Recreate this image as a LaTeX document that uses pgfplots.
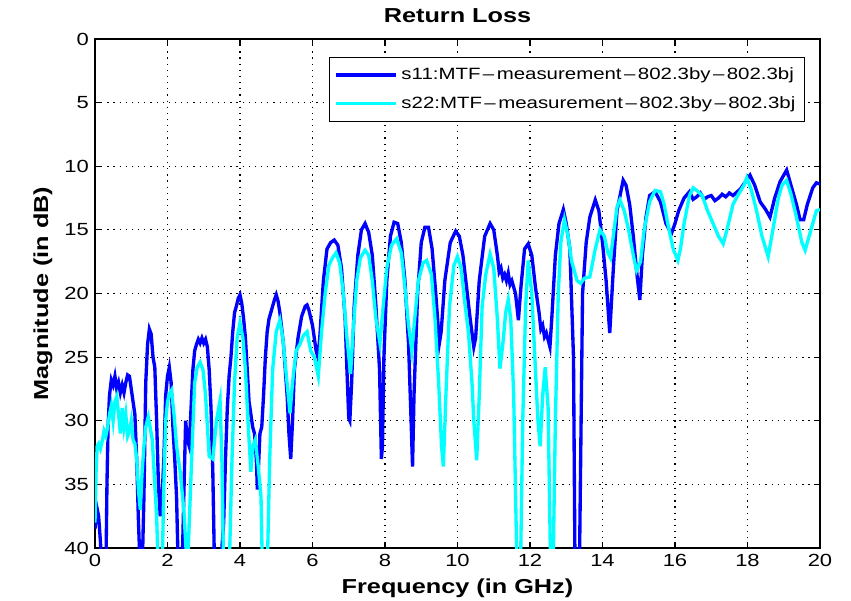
\documentclass[border=0pt]{standalone}
\usepackage{fontspec}
\setmainfont{Liberation Sans}[FakeStretch=1.25]
\usepackage{pgfplots}
\pgfplotsset{compat=1.18}
\definecolor{mblue}{RGB}{0,0,255}
\definecolor{mcyan}{RGB}{0,255,255}

% s11 (blue)
\pgfplotstableread{
x y
0.00 38.5
0.05 36.8
0.10 37.5
0.15 39.5
0.20 42
0.30 42
0.33 35
0.36 30.5
0.40 28
0.45 26.8
0.50 27.2
0.55 26.5
0.60 27.5
0.65 27.0
0.70 27.8
0.75 27.2
0.80 27.8
0.85 27.0
0.90 26.4
0.95 26.5
1.00 27.5
1.05 28.5
1.10 29.5
1.15 33
1.20 38
1.25 42
1.30 42
1.35 36
1.40 27
1.45 24
1.50 22.8
1.55 23.2
1.60 25
1.65 25.8
1.70 30
1.75 35
1.80 37.5
1.85 36
1.90 33
1.95 28
2.00 26.5
2.05 25.8
2.10 27
2.15 30.5
2.20 33
2.25 36
2.30 42
2.40 42
2.45 36
2.50 30
2.55 31.5
2.60 32
2.65 29
2.70 26
2.75 24.5
2.80 24
2.85 23.6
2.90 23.9
2.95 23.5
3.00 23.9
3.05 23.6
3.10 24.2
3.15 26
3.20 29
3.25 34
3.30 42
3.45 42
3.55 38
3.60 33
3.65 29
3.70 26.5
3.75 25
3.80 23
3.85 21.5
3.90 21
3.95 20.4
4.00 20.1
4.05 20.8
4.10 22
4.15 23.5
4.20 26
4.25 28.5
4.30 29.5
4.35 30.5
4.40 31
4.45 33
4.48 35.4
4.52 33
4.55 31
4.60 30.5
4.65 28
4.70 25
4.75 23
4.80 22
4.90 21
4.95 20.5
5.00 20.1
5.05 20.6
5.10 21.5
5.20 24
5.30 28
5.35 31
5.40 33
5.45 30
5.50 26
5.60 23.5
5.70 21.8
5.80 21.0
5.85 20.9
5.90 21.3
6.00 22.5
6.10 24.5
6.15 25
6.20 23.5
6.30 19
6.40 16.5
6.50 16
6.60 15.8
6.70 16.2
6.80 18
6.90 22
6.95 26
7.00 29.8
7.03 30
7.08 27
7.15 21
7.25 17
7.35 15
7.45 14.5
7.55 15.2
7.65 17
7.75 21
7.85 26
7.90 33
7.93 32
7.97 25
8.05 19
8.15 15.5
8.25 14.4
8.35 14.5
8.45 16
8.55 19
8.65 24
8.72 30
8.76 33.6
8.80 28
8.90 20
9.00 16
9.10 14.8
9.20 14.8
9.30 16.5
9.40 20
9.50 23.9
9.55 23
9.65 19
9.80 16
9.95 15.1
10.05 15.5
10.15 17
10.25 19.5
10.35 22
10.45 24.2
10.50 23.5
10.60 19
10.75 15.5
10.90 14.5
11.00 15
11.10 17
11.15 18.3
11.20 18
11.25 18.8
11.30 18.5
11.35 19
11.40 18.4
11.45 19.3
11.50 19
11.60 20
11.68 22.1
11.75 19.5
11.85 16.5
11.95 16.1
12.05 17
12.15 19.5
12.25 21.5
12.30 22.8
12.35 22.5
12.40 23.4
12.45 23.1
12.55 24.2
12.60 22
12.70 17
12.80 14.5
12.92 13.4
13.00 14.5
13.10 16.5
13.20 25
13.25 45
13.35 45
13.45 20
13.55 16
13.65 14
13.80 12.65
13.90 13.5
14.00 16
14.10 19
14.20 23.1
14.30 18
14.40 13.5
14.57 11.1
14.65 11.5
14.75 13
14.85 15.5
14.95 18.5
15.03 20.5
15.10 17
15.20 14
15.30 12.3
15.45 12.0
15.60 12.8
15.75 14.5
15.90 15.3
16.00 14.5
16.10 13.5
16.25 12.5
16.40 12.0
16.50 12.6
16.60 12.4
16.70 12.1
16.80 12.6
16.90 12.4
17.00 12.3
17.10 12.7
17.20 12.5
17.30 12.2
17.40 12.4
17.50 12.1
17.60 12.3
17.80 11.8
17.95 11.2
18.07 10.7
18.20 11.5
18.35 12.8
18.50 13.4
18.62 14.0
18.75 12.5
18.90 11.2
19.08 10.3
19.20 11.5
19.35 13
19.45 14.2
19.55 14.2
19.65 13
19.80 11.7
19.90 11.3
20.00 11.4
}\sone

% s22 (cyan)
\pgfplotstableread{
x y
0.00 38
0.03 34
0.06 32
0.10 31.8
0.15 32.2
0.20 31.6
0.25 30.8
0.30 31.2
0.35 30.5
0.40 29.5
0.45 28.8
0.50 30
0.55 28.5
0.60 28.1
0.65 29.5
0.70 31
0.75 29
0.80 30.5
0.85 29.5
0.90 31.2
0.95 30.8
1.00 30
1.05 31.5
1.10 31.8
1.15 33
1.20 35.5
1.25 37
1.30 34
1.35 32
1.40 30.5
1.47 29.7
1.52 30.5
1.58 31.5
1.65 35
1.70 37.5
1.75 42
1.85 42
1.90 35
1.95 30
2.00 28.5
2.05 27.9
2.11 27.6
2.18 29.5
2.25 32
2.35 34
2.45 37
2.55 42
2.60 38
2.68 32
2.75 27
2.82 25.8
2.90 25.4
2.98 26
3.05 28
3.15 32.8
3.25 33
3.35 30
3.45 28.4
3.50 33
3.55 42
3.70 42
3.78 33
3.85 27
3.92 23.5
4.00 22.3
4.08 23.5
4.15 26
4.22 30
4.30 34
4.35 32
4.42 31.5
4.50 33.5
4.58 36
4.62 42
4.75 42
4.82 33
4.90 26
5.00 23
5.10 22.1
5.18 23.5
5.28 26.5
5.38 29.4
5.45 27
5.55 24.5
5.65 24
5.75 23.3
5.85 23.0
5.95 24.5
6.05 25
6.16 26.5
6.25 23
6.35 20
6.45 17.8
6.55 17.2
6.65 16.8
6.75 17.6
6.85 20
6.95 23.5
7.05 26.3
7.12 23
7.22 19
7.32 17.2
7.45 16.6
7.55 17
7.65 19
7.75 22
7.86 23.9
7.95 21
8.05 18
8.18 16.2
8.32 15.7
8.45 16.8
8.55 19.5
8.65 22.5
8.74 24.5
8.82 22
8.92 19
9.05 17.6
9.15 17.4
9.28 18.5
9.38 22
9.48 27
9.56 32
9.61 33.6
9.68 28
9.78 21
9.90 17.8
10.00 17.1
10.10 18
10.20 20.7
10.30 23
10.40 27
10.45 30
10.53 33.1
10.60 28
10.68 21
10.78 18.5
10.90 16.9
11.00 18
11.10 22
11.17 25.9
11.25 24
11.33 21.5
11.40 20.5
11.47 22
11.55 28
11.63 40
11.72 45
11.80 30
11.88 21
11.95 17.4
12.05 20
12.15 26
12.22 30
12.28 32
12.35 28
12.42 25.8
12.50 29
12.56 40
12.62 45
12.70 30
12.78 20
12.85 16
12.95 14.2
13.05 15.5
13.15 17.5
13.30 19
13.40 19.2
13.50 18.8
13.65 18.7
13.80 16.5
13.93 15
14.05 15.5
14.15 16.8
14.22 17.2
14.32 15
14.40 13.2
14.48 12.65
14.60 13.5
14.72 15
14.85 17
14.94 18.2
15.05 17.5
15.15 15
15.30 12.8
15.45 11.9
15.60 12
15.70 13
15.80 14.5
15.95 16.5
16.08 17.4
16.15 16.5
16.25 14.5
16.40 12.3
16.50 11.7
16.60 11.9
16.75 12.3
16.90 13.5
17.05 14.5
17.20 15.5
17.33 16.1
17.45 14.8
17.60 13
17.75 12.2
17.90 11.5
17.98 10.9
18.10 11.8
18.25 13.5
18.40 15.5
18.57 17.1
18.70 15
18.85 12.5
18.95 11.5
19.08 11.1
19.20 12.2
19.35 14
19.50 16
19.59 16.6
19.70 15.5
19.80 14.5
19.90 13.5
20.00 13.4
}\stwo

\begin{document}
\begin{tikzpicture}
\begin{axis}[
    at={(0,0)}, anchor=south west,
    scale only axis,
    width=14.5cm,
    height=10.18cm,
    xmin=0, xmax=20,
    ymin=0, ymax=40,
    y dir=reverse,
    xtick={0,2,...,20},
    ytick={0,5,...,40},
    tick align=inside,
    major tick length=0.12cm,
    every tick/.style={black, line width=0.6pt},
    axis line style={line width=0.8pt},
    grid=major,
    grid style={black, line width=0.7pt, dash pattern=on 0.7pt off 2.8pt},
    /pgf/number format/assume math mode=true,
    tick label style={font=\fontsize{10}{12}\selectfont},
    title={Return Loss},
    title style={font=\fontsize{11.5}{13}\selectfont\bfseries},
    xlabel={Frequency (in GHz)},
    ylabel={Magnitude (in dB)},
    label style={font=\fontsize{11.5}{13}\selectfont\bfseries},
    legend cell align=left,
    legend style={
        at={(0.979,0.965)}, anchor=north east,
        draw=black, line width=0.6pt, fill=white,
        font=\fontsize{9.3}{11}\selectfont,
        row sep=4pt, inner ysep=4pt,
    },
    legend image code/.code={\draw[#1] (0cm,0cm) -- (1.2cm,0cm);},
]
\addplot[mblue, line width=1.9pt] table {\sone};
\addlegendentry{s11:MTF\kern.15em--\kern.15em measurement\kern.15em--\kern.15em 802.3by\kern.15em--\kern.15em 802.3bj}
\addplot[mcyan, line width=1.9pt] table {\stwo};
\addlegendentry{s22:MTF\kern.15em--\kern.15em measurement\kern.15em--\kern.15em 802.3by\kern.15em--\kern.15em 802.3bj}
\end{axis}
\pgfresetboundingbox
\path[use as bounding box] (-1.9,-1.04) rectangle (15.12,10.96);
\end{tikzpicture}
\end{document}
